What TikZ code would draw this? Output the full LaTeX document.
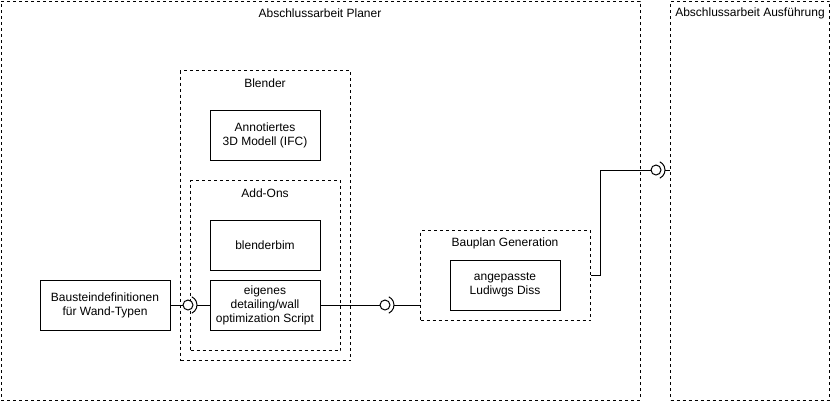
\documentclass[tikz,border=0pt]{standalone}
\usepackage{fontspec}
\setmainfont{Liberation Sans}
\usetikzlibrary{positioning}

\begin{document}
\begin{tikzpicture}[x=0.75pt, y=-0.75pt, line width=0.75pt,
    frame/.style={draw, dash pattern=on 2.25pt off 2.25pt, anchor=north west, inner sep=0pt},
    box/.style={draw, minimum width=82.5pt, minimum height=37.5pt, inner sep=0pt, align=center, font=\fontsize{9}{10.5}\selectfont},
    title/.style={inner sep=0pt, font=\fontsize{9}{10.5}\selectfont},
    ball/.style={draw, circle, fill=white, minimum size=7.5pt, inner sep=0pt}]
    \useasboundingbox (0,0) rectangle (831,401);

    % Outer frames
    \node[frame, minimum width=479.25pt, minimum height=299.25pt] (planer) at (0.5,0.5) {};
    \node[title] (planerT) at (320,13) {Abschlussarbeit Planer};
    \node[frame, minimum width=119.25pt, minimum height=299.25pt] (ausf) at (670,0.5) {};
    \node[title] (ausfT) at (750,13) {Abschlussarbeit Ausführung};

    % Blender with Add-Ons
    \node[frame, minimum width=127.5pt, minimum height=217.5pt] (blender) at (180,70) {};
    \node[title] (blenderT) at (265,83) {Blender};
    \node[box] (ifc) at (265,135) {Annotiertes\\3D Modell (IFC)};
    \node[frame, minimum width=112.5pt, minimum height=127.5pt] (addons) at (190,180) {};
    \node[title] (addonsT) at (265,193) {Add-Ons};
    \node[box] (bim) at (265,245) {blenderbim};
    \node[box] (script) at (265,305) {eigenes\\detailing/wall\\optimization Script};

    % Input
    \node[box, minimum width=97.5pt] (baustein) at (105,305) {Bausteindefinitionen\\für Wand-Typen};

    % Bauplan Generation
    \node[frame, minimum width=127.5pt, minimum height=67.5pt] (bauplan) at (420,230) {};
    \node[title] (bauplanT) at (505,243) {Bauplan Generation};
    \node[box] (diss) at (505,285) {angepasste\\Ludiwgs Diss};

    % Ball and socket connectors
    \foreach \n/\x/\y in {1/188/305, 2/385/305, 3/656/170} {
        \node[ball] (b\n) at (\x,\y) {};
        \draw ([shift={(-65:6.75pt)}]b\n.center) arc[start angle=-65, end angle=65, radius=6.75pt];
        \coordinate (s\n) at ([xshift=6.75pt]b\n.center);
    }
    \coordinate (knick) at (600,170);

    \draw (baustein) -- (b1);
    \draw (s1) -- (script);
    \draw (script) -- (b2);
    \draw (s2) -- (s2 -| bauplan.west);
    \draw (bauplan.east) -| (knick) -- (b3);
    \draw (s3) -- (s3 -| ausf.west);
\end{tikzpicture}
\end{document}
